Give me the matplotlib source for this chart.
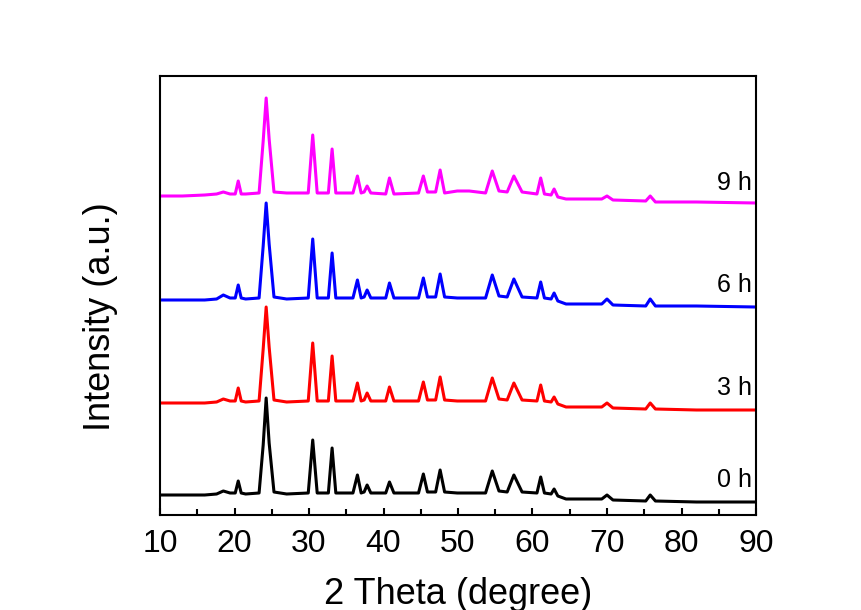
import numpy as np
import matplotlib.pyplot as plt
from matplotlib.ticker import MultipleLocator

plt.rcParams['font.family'] = ['Liberation Sans', 'DejaVu Sans']

# 2 theta positions (deg)
theta = [10, 13, 16, 17.6, 18.5, 19.4, 20.1, 20.5, 20.9, 21.5,
         23.3, 23.85, 24.25, 24.65, 25.3, 27, 29.9, 30.5, 31.1, 32.6,
         33.1, 33.6, 35.9, 36.5, 37.0, 37.4, 37.8, 38.3, 40.3, 40.8,
         41.4, 44.7, 45.35, 45.9, 47.0, 47.6, 48.2, 49.9, 51.5, 53.7,
         54.6, 55.5, 56.6, 57.5, 58.6, 60.6, 61.1, 61.6, 62.5, 62.9,
         63.4, 64.5, 69.3, 70.0, 70.8, 75.2, 75.8, 76.5, 82, 90]

# intensities (a.u., already stacked)
i_0h = [20, 20, 20, 21, 24, 22, 22, 34, 22, 21,
        22, 70, 117, 72, 23, 21, 22, 75, 22, 22,
        67, 22, 22, 40, 22, 23, 30, 22, 22, 33,
        22, 22, 41, 23, 23, 45, 23, 22, 22, 22,
        44, 24, 23, 40, 23, 22, 38, 22, 21, 26,
        19, 16, 16, 20, 15, 14, 20, 14, 13, 13]
i_3h = [112, 112, 112, 113, 116, 114, 114, 127, 114, 113,
        114, 166, 208, 168, 115, 113, 114, 172, 114, 114,
        159, 114, 114, 132, 114, 115, 122, 114, 114, 128,
        114, 114, 133, 115, 115, 138, 115, 114, 114, 114,
        137, 116, 115, 132, 115, 114, 130, 114, 113, 118,
        111, 108, 108, 112, 107, 106, 112, 106, 105, 105]
i_6h = [215, 215, 215, 216, 220, 217, 217, 230, 217, 216,
        217, 269, 312, 271, 218, 216, 217, 276, 217, 217,
        262, 217, 217, 235, 217, 218, 225, 217, 217, 232,
        217, 217, 237, 218, 218, 241, 218, 217, 217, 217,
        240, 219, 218, 236, 218, 217, 233, 217, 216, 222,
        214, 211, 211, 216, 210, 209, 216, 209, 209, 208]
i_9h = [319, 319, 320, 321, 323, 321, 321, 334, 321, 321,
        322, 374, 417, 376, 323, 322, 322, 380, 322, 322,
        366, 322, 322, 339, 322, 323, 329, 322, 321, 337,
        321, 322, 339, 323, 323, 345, 322, 324, 324, 322,
        344, 324, 323, 339, 323, 321, 337, 321, 320, 326,
        318, 316, 316, 319, 315, 314, 319, 313, 313, 312]

labels = ['0 h', '3 h', '6 h', '9 h']
label_y = [28, 120, 223, 325]
colors = ['black', 'red', 'blue', 'magenta']

fig = plt.figure(figsize=(8.62, 6.1), dpi=100)
ax = fig.add_axes([160/862, 95/610, 596/862, 439/610])

for y, c, lab, ly in zip([i_0h, i_3h, i_6h, i_9h], colors, labels, label_y):
    ax.plot(theta, y, color=c, lw=2.2)
    ax.text(89.4, ly, lab, ha='right', va='baseline', fontsize=18)

ax.set_xlim(10, 90)
ax.set_ylim(0, 439)
ax.xaxis.set_major_locator(MultipleLocator(10))
ax.xaxis.set_minor_locator(MultipleLocator(5))
ax.tick_params(axis='x', which='major', direction='in', length=5, width=1.5,
               labelsize=23, pad=10)
ax.tick_params(axis='x', which='minor', direction='in', length=4, width=1.5)
ax.set_yticks([])
for s in ax.spines.values():
    s.set_linewidth(1.5)

ax.set_xlabel('2 Theta (degree)', fontsize=26, labelpad=13)
ax.set_ylabel('Intensity (a.u.)', fontsize=26)
ax.yaxis.set_label_coords(-0.07, 0.453)

fig.savefig('out.png', dpi=100)
